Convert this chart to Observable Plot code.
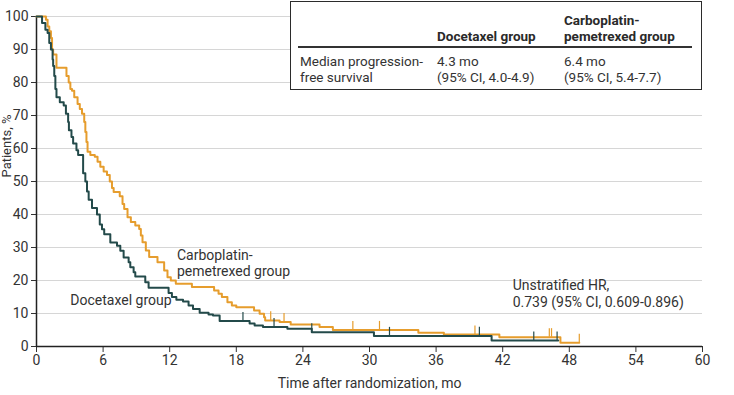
<!DOCTYPE html>
<html><head><meta charset="utf-8">
<script src="https://cdn.jsdelivr.net/npm/d3@7"></script>
<script src="https://cdn.jsdelivr.net/npm/@observablehq/plot@0.6"></script>
<style>
body{margin:0;background:#fff;}
#wrap{position:relative;width:734px;height:395px;font-family:Roboto,sans-serif;color:#333;overflow:hidden;}
#wrap svg{position:absolute;left:0;top:0;}
.box{position:absolute;left:290px;top:1px;width:412px;height:89px;border:1.5px solid #2b2b2b;background:#fff;box-sizing:border-box;}
.sep{position:absolute;left:298px;top:46px;width:394px;height:1.5px;background:#333;}
.t{position:absolute;font-size:13.5px;line-height:16px;white-space:nowrap;color:#333;}
.b{font-weight:bold;color:#2a2a2a;}
</style></head><body><div id="wrap"></div>
<script>
// Kaplan-Meier steps (time in months, % free of progression)
const docetaxelTime = [0,0.5,0.8,1.0,1.15,1.3,1.45,1.5,1.6,1.7,1.8,2.1,2.45,2.65,2.85,2.92,3.15,3.3,3.6,3.75,4.2,4.4,4.55,4.7,5.0,5.45,5.7,5.9,6.1,6.65,7.25,7.55,7.85,8.3,8.45,8.75,8.9,9.8,10.1,11.9,12.2,12.6,13.2,13.7,14.1,14.7,15.5,15.9,16.5,19.2,19.65,20.4,22.6,24.8,30.4,41.0,47.0];
const docetaxelSurv = [100,98,96,95,92,90,87,85,82,78,75.5,74,73,70.5,68,65.5,63.5,61.5,59.5,58,52.5,50,47,44.5,42,40,37,35.5,34,31.5,30.5,29,27,25.5,24,22.5,21.2,19.5,17.8,16.2,15,14.2,13.6,12.4,11.4,10.2,9.7,9.4,7.7,7.0,6.4,5.9,5.4,4.3,3.2,1.8,1.8];
const carboTime = [0,0.85,1.0,1.15,1.3,1.4,1.5,1.8,2.7,2.9,3.05,3.2,3.4,3.7,3.9,4.1,4.3,4.4,4.5,4.6,4.85,5.25,5.5,5.75,6.05,6.35,6.6,6.8,6.95,7.5,7.75,7.9,8.2,8.5,8.9,9.25,9.4,9.55,9.85,10.15,10.9,11.5,11.8,12.1,12.55,14.0,16.0,16.4,16.7,17.2,17.6,18.0,19.6,20.1,20.5,20.6,21.9,22.9,25.5,26.7,34.4,36.7,41.7,47.2,48.9];
const carboSurv = [100,99,97,95.5,93.5,90,88.5,84.5,82,80,78,77.5,75.5,73.5,72,70.5,68,65,62,59,58,57.5,56,54.5,53,52,50,48,46.8,45.5,43.2,41.7,39.2,37.7,36.7,35.6,33.6,31.6,29.1,27.1,25.5,23,21,20,19,18,17,16,15,13.4,12.4,11.9,10.9,9.9,8.9,7.9,7.4,6.7,5.9,5.0,4.2,3.6,2.8,1.1,1.1];
const docetaxelCensor = [18.6,21.4,24.8,31.8,39.9,44.8,46.9];
const carboCensor = [21.1,22.3,28.5,30.9,39.5,46.2,46.4,48.9];
const xTicks = [0,6,12,18,24,30,36,42,48,54,60];
const yTicks = [0,10,20,30,40,50,60,70,80,90,100];
const xLabel = "Time after randomization, mo";
const yLabel = "Patients, %";
const groupLabels = ["Docetaxel group","Carboplatin-\npemetrexed group"];
const hrLabel = "Unstratified HR,\n0.739 (95% CI, 0.609-0.896)";
const tableHead = ["Docetaxel group","Carboplatin-\npemetrexed group"];
const tableRowLabel = ["Median progression-","free survival"];
const tableDoc = ["4.3 mo","(95% CI, 4.0-4.9)"];
const tableCarbo = ["6.4 mo","(95% CI, 5.4-7.7)"];

const DOC = "#234a4a", CARBO = "#e69d2d";

const valueAt = (times, vals, t) => { let v = vals[0]; times.forEach((x,i)=>{ if (x <= t) v = vals[i]; }); return v; };
const docData = docetaxelTime.map((t,i)=>({t, v: docetaxelSurv[i]}));
const carboData = carboTime.map((t,i)=>({t, v: carboSurv[i]}));

const plot = Plot.plot({
  width: 734, height: 395,
  marginLeft: 36, marginRight: 32, marginTop: 16, marginBottom: 49,
  style: {fontFamily: "Roboto, sans-serif", fontSize: "14px", color: "#333", background: "transparent", overflow: "visible"},
  x: {domain: [0, 60]},
  y: {domain: [0, 100]},
  marks: [
    Plot.ruleY(yTicks.filter(d => d > 0), {stroke: "#d6d6d6", strokeWidth: 1}),
    Plot.axisY({ticks: yTicks, tickSize: 5, tickPadding: 3, label: null, stroke: "#333", fill: "#333"}),
    Plot.axisX({ticks: xTicks, tickSize: 6, tickPadding: 3, label: null, stroke: "#333", fill: "#333"}),
    Plot.ruleX([0], {stroke: "#222", strokeWidth: 1.5}),
    Plot.ruleY([0], {stroke: "#222", strokeWidth: 1.5}),
    Plot.text([xLabel], {frameAnchor: "bottom", dy: 41, lineAnchor: "bottom", fontSize: 14, fill: "#333"}),
    Plot.text([yLabel], {frameAnchor: "left", dx: -30, dy: -4, rotate: -90, lineAnchor: "middle", fontSize: 13, fill: "#333"}),
    Plot.line(carboData, {x: "t", y: "v", curve: "step-after", stroke: CARBO, strokeWidth: 2}),
    Plot.line(docData, {x: "t", y: "v", curve: "step-after", stroke: DOC, strokeWidth: 2}),
    Plot.ruleX(carboCensor, {x: d => d, y1: d => valueAt(carboTime, carboSurv, d), y2: d => valueAt(carboTime, carboSurv, d) + 2.6, stroke: CARBO, strokeWidth: 1.2}),
    Plot.ruleX(docetaxelCensor, {x: d => d, y1: d => valueAt(docetaxelTime, docetaxelSurv, d), y2: d => valueAt(docetaxelTime, docetaxelSurv, d) + 2.6, stroke: DOC, strokeWidth: 1.2}),
    Plot.text([groupLabels[0]], {x: 3.05, y: 12.7, textAnchor: "start", lineAnchor: "bottom", fontSize: 14, fill: "#333"}),
    Plot.text([groupLabels[1]], {x: 12.65, y: 21.3, textAnchor: "start", lineAnchor: "bottom", lineHeight: 1.18, fontSize: 14, fill: "#333"}),
    Plot.text([hrLabel], {x: 42.9, y: 12.1, textAnchor: "start", lineAnchor: "bottom", lineHeight: 1.15, fontSize: 14, fill: "#333"})
  ]
});

const wrap = document.getElementById("wrap");
wrap.appendChild(plot);
const add = (cls, text, left, top) => {
  const d = document.createElement("div");
  d.className = cls; d.textContent = text;
  d.style.left = left + "px"; d.style.top = top + "px";
  wrap.appendChild(d);
};
const box = document.createElement("div"); box.className = "box"; wrap.appendChild(box);
const sep = document.createElement("div"); sep.className = "sep"; wrap.appendChild(sep);
const headCarbo = tableHead[1].split("\n");
add("t b", tableHead[0], 437, 28);
add("t b", headCarbo[0], 564, 11.5);
add("t b", headCarbo[1], 564, 28);
add("t", tableRowLabel[0], 300, 52.5);
add("t", tableRowLabel[1], 300, 68.5);
add("t", tableDoc[0], 437, 52.5);
add("t", tableDoc[1], 437, 68.5);
add("t", tableCarbo[0], 564, 52.5);
add("t", tableCarbo[1], 564, 68.5);
</script></body></html>
